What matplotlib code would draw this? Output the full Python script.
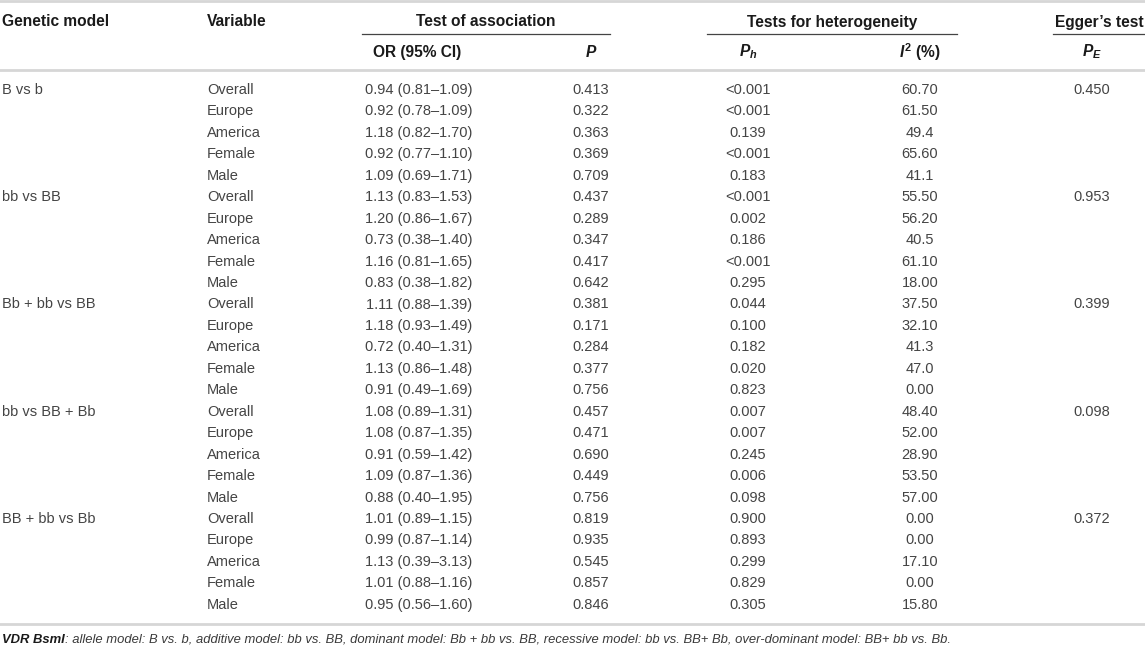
import matplotlib.pyplot as plt

plt.rcParams['font.family'] = ['Liberation Sans', 'DejaVu Sans']
plt.rcParams['mathtext.fontset'] = 'custom'
plt.rcParams['mathtext.it'] = 'Liberation Sans:italic:bold'
plt.rcParams['mathtext.rm'] = 'Liberation Sans:bold'

# table content
models = ["B vs b", "bb vs BB", "Bb + bb vs BB", "bb vs BB + Bb", "BB + bb vs Bb"]
variables = ["Overall", "Europe", "America", "Female", "Male"]
or_ci = [
    "0.94 (0.81–1.09)", "0.92 (0.78–1.09)", "1.18 (0.82–1.70)", "0.92 (0.77–1.10)", "1.09 (0.69–1.71)",
    "1.13 (0.83–1.53)", "1.20 (0.86–1.67)", "0.73 (0.38–1.40)", "1.16 (0.81–1.65)", "0.83 (0.38–1.82)",
    "1.11 (0.88–1.39)", "1.18 (0.93–1.49)", "0.72 (0.40–1.31)", "1.13 (0.86–1.48)", "0.91 (0.49–1.69)",
    "1.08 (0.89–1.31)", "1.08 (0.87–1.35)", "0.91 (0.59–1.42)", "1.09 (0.87–1.36)", "0.88 (0.40–1.95)",
    "1.01 (0.89–1.15)", "0.99 (0.87–1.14)", "1.13 (0.39–3.13)", "1.01 (0.88–1.16)", "0.95 (0.56–1.60)",
]
p_vals = [
    "0.413", "0.322", "0.363", "0.369", "0.709",
    "0.437", "0.289", "0.347", "0.417", "0.642",
    "0.381", "0.171", "0.284", "0.377", "0.756",
    "0.457", "0.471", "0.690", "0.449", "0.756",
    "0.819", "0.935", "0.545", "0.857", "0.846",
]
ph_vals = [
    "<0.001", "<0.001", "0.139", "<0.001", "0.183",
    "<0.001", "0.002", "0.186", "<0.001", "0.295",
    "0.044", "0.100", "0.182", "0.020", "0.823",
    "0.007", "0.007", "0.245", "0.006", "0.098",
    "0.900", "0.893", "0.299", "0.829", "0.305",
]
i2_vals = [
    "60.70", "61.50", "49.4", "65.60", "41.1",
    "55.50", "56.20", "40.5", "61.10", "18.00",
    "37.50", "32.10", "41.3", "47.0", "0.00",
    "48.40", "52.00", "28.90", "53.50", "57.00",
    "0.00", "0.00", "17.10", "0.00", "15.80",
]
pe_vals = ["0.450", "0.953", "0.399", "0.098", "0.372"]

W, H = 1145, 648
fig = plt.figure(figsize=(W / 100, H / 100), dpi=100)
ax = fig.add_axes([0, 0, 1, 1])
ax.set_xlim(0, W)
ax.set_ylim(H, 0)
ax.axis('off')

fs = 10.5
hdr = dict(fontsize=11.2, fontweight='bold', color='#1a1a1a', va='center')
body = dict(fontsize=fs, color='#444444', va='center')
light = '#d6d6d6'

# horizontal rules
ax.plot([0, W], [1, 1], color=light, lw=2)
ax.plot([0, W], [70, 70], color=light, lw=2)
ax.plot([0, W], [624, 624], color=light, lw=2)
for x0, x1 in [(362, 610), (707, 957), (1053, W)]:
    ax.plot([x0, x1], [34, 34], color='#444444', lw=0.9)

# header
ax.text(2, 22, "Genetic model", ha='left', **hdr)
ax.text(207, 22, "Variable", ha='left', **hdr)
ax.text(486, 22, "Test of association", ha='center', **hdr)
ax.text(832, 22, "Tests for heterogeneity", ha='center', **hdr)
ax.text(1099, 22, "Egger’s test", ha='center', **hdr)
ax.text(417, 52, "OR (95% CI)", ha='center', **hdr)
ax.text(591, 52, "$P$", ha='center', **hdr)
ax.text(748, 52, "$P_h$", ha='center', **hdr)
ax.text(920, 52, "$I^2$ (%)", ha='center', **hdr)
ax.text(1092, 52, "$P_E$", ha='center', **hdr)

# body rows
y0, dy = 90, 21.45
for i in range(len(or_ci)):
    y = y0 + i * dy
    if i % 5 == 0:
        ax.text(2, y, models[i // 5], ha='left', **body)
        ax.text(1092, y, pe_vals[i // 5], ha='center', **body)
    ax.text(207, y, variables[i % 5], ha='left', **body)
    ax.text(419, y, or_ci[i], ha='center', **body)
    ax.text(591, y, p_vals[i], ha='center', **body)
    ax.text(748, y, ph_vals[i], ha='center', **body)
    ax.text(920, y, i2_vals[i], ha='center', **body)

# footnote
fn = 9.4
t1 = ax.text(2, 640, "VDR BsmI", fontsize=fn, fontweight='bold', fontstyle='italic',
             color='#1a1a1a', va='center', ha='left')
ax.annotate(": allele model: B vs. b, additive model: bb vs. BB, dominant model: Bb + bb vs. BB, "
            "recessive model: bb vs. BB+ Bb, over-dominant model: BB+ bb vs. Bb.",
            xy=(1, 0.5), xycoords=t1, va='center', ha='left',
            fontsize=fn, fontstyle='italic', color='#3a3a3a')

fig.savefig('out.png', dpi=100)
